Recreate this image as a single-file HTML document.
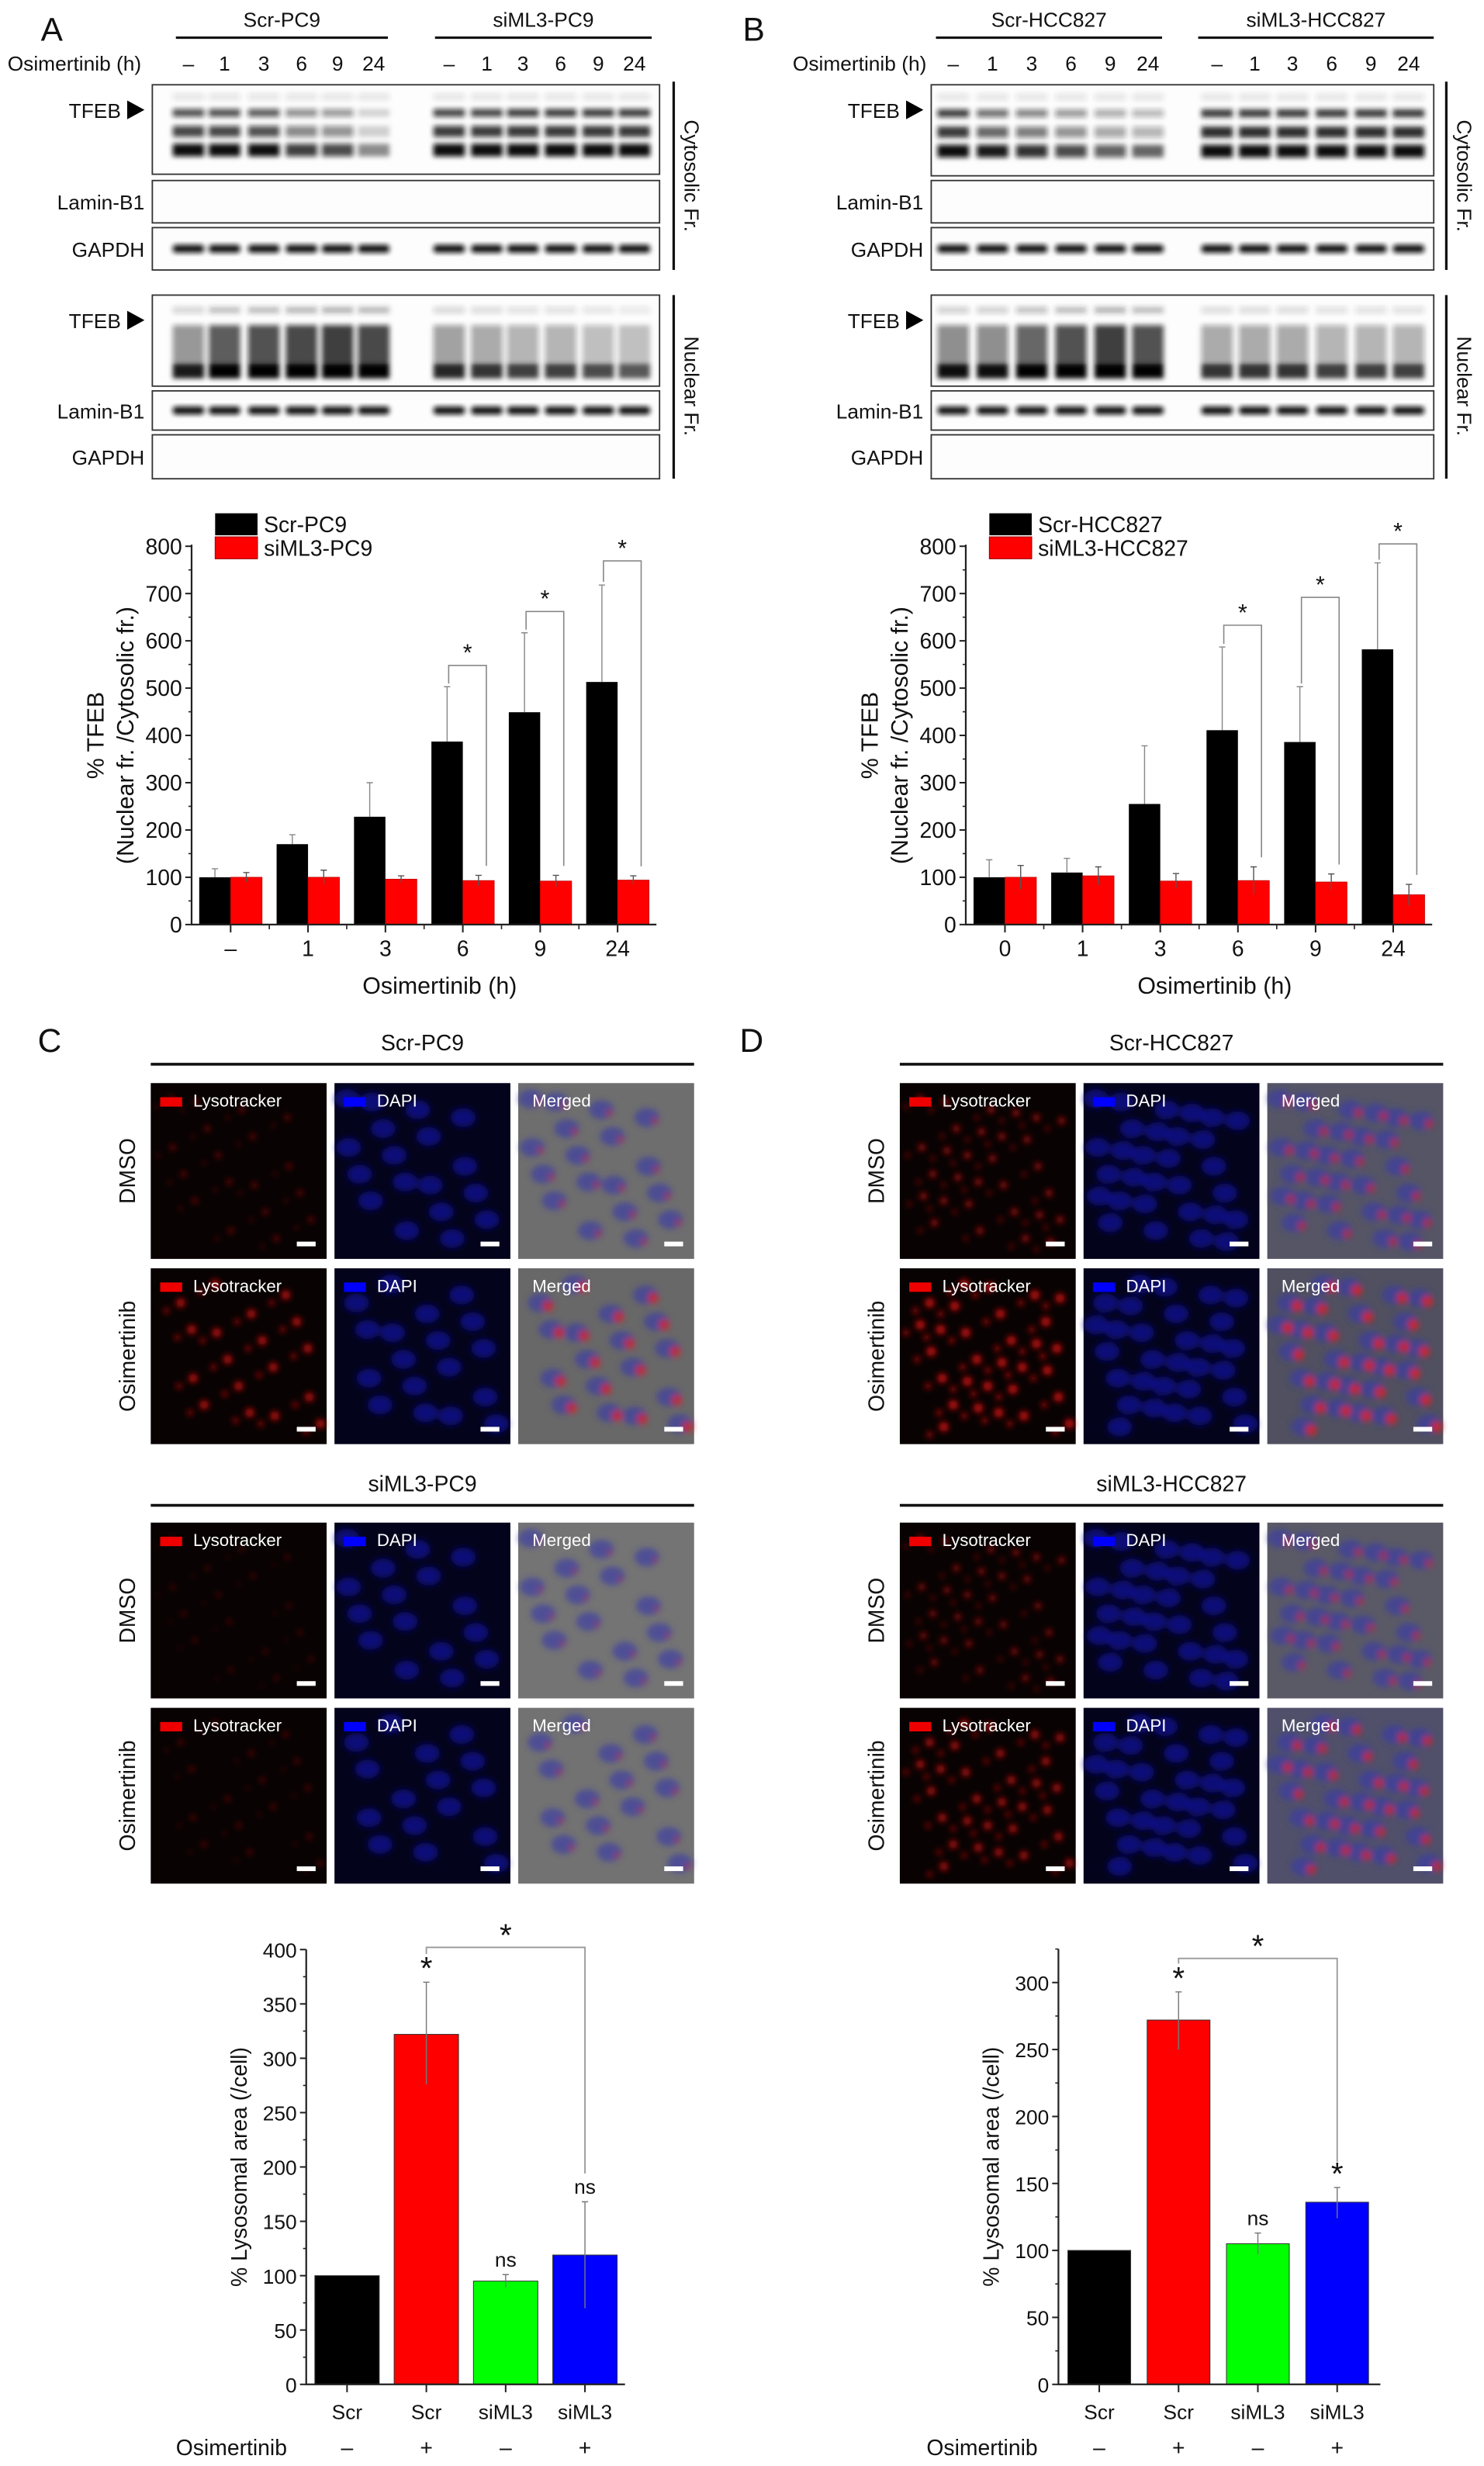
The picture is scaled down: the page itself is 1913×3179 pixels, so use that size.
<!DOCTYPE html>
<html><head><meta charset="utf-8"><style>
html,body{margin:0;padding:0;background:#fff}
svg{display:block}
text{font-family:"Liberation Sans",sans-serif}
</style></head><body>
<svg id="fig" xmlns="http://www.w3.org/2000/svg" width="1913" height="3179" viewBox="0 0 945 1571" preserveAspectRatio="none">
<defs>
<filter id="blur1" x="-20%" y="-50%" width="140%" height="200%"><feGaussianBlur stdDeviation="1.6"/></filter>
<filter id="blur2" x="-50%" y="-50%" width="200%" height="200%"><feGaussianBlur stdDeviation="2"/></filter>
</defs>
<g id="blots"></g>
<g id="micro"></g>
<g id="charts"></g>
<text x="26" y="26" font-size="21" fill="#111">A</text>
<text x="473" y="26" font-size="21" fill="#111">B</text>
<text x="24" y="670" font-size="21" fill="#111">C</text>
<text x="471" y="670" font-size="21" fill="#111">D</text>
</svg>
<script>
// ---------- Chart data ----------
const timeLabelsA = ['–','1','3','6','9','24'];
const scrPC9 = [100,170,228,387,449,513];
const scrPC9Err = [118,190,300,503,617,718];
const siPC9 = [100,100,96,93,92,94];
const siPC9Err = [110,115,103,104,104,103];
const sigA = [null,null,null,548,662,769];

const timeLabelsB = ['0','1','3','6','9','24'];
const scrHCC = [100,110,255,411,386,582];
const scrHCCErr = [137,140,378,587,503,765];
const siHCC = [100,103,92,93,90,63];
const siHCCErr = [125,122,108,122,107,85];
const sigB = [null,null,null,633,692,805];

const tfebTicks = [0,100,200,300,400,500,600,700,800];

const lysoCats = ['Scr','Scr','siML3','siML3'];
const lysoDrug = ['–','+','–','+'];
const lysoC = [100,322,95,119];
const lysoCLo = [100,276,89,70];
const lysoCHi = [100,370,101,168];
const lysoCMarks = ['','*','ns','ns'];
const lysoCTicks = [0,50,100,150,200,250,300,350,400];

const lysoD = [100,272,105,136];
const lysoDLo = [100,250,97,124];
const lysoDHi = [100,293,113,147];
const lysoDMarks = ['','*','ns','*'];
const lysoDTicks = [0,50,100,150,200,250,300];

const NS='http://www.w3.org/2000/svg';
function mk(tag,attrs,parent,txt){const e=document.createElementNS(NS,tag);for(const k in attrs)e.setAttribute(k,attrs[k]);if(tag==='text'&&!attrs.fill)e.setAttribute('fill','#111');if(txt!==undefined)e.textContent=txt;parent.appendChild(e);return e;}

const charts=document.getElementById('charts');

// ---------- Grouped TFEB chart ----------
function tfebChart(o){
  const g=mk('g',{},charts);
  
  
  const y=v=>o.y0-(v/800)*(o.y0-o.y800);
  const n=o.labels.length;
  const cx=i=>o.x0+(o.x1-o.x0)*(0.084+0.1665*i);
  const bw=20;
  for(let i=0;i<n;i++){
    const c=cx(i);
    const b=mk('rect',{x:c-bw,y:y(o.black[i]),width:bw,height:y(0)-y(o.black[i]),fill:'#000'},g);
    
    
    const r=mk('rect',{x:c,y:y(o.red[i]),width:bw,height:y(0)-y(o.red[i]),fill:'#f00',stroke:'#b00','stroke-width':0.4},g);
    
    
    const e1=mk('path',{d:`M${c-bw/2},${y(o.black[i])} V${y(o.blackErr[i])} M${c-bw/2-2},${y(o.blackErr[i])} H${c-bw/2+2}`,stroke:'#888','stroke-width':0.7,fill:'none'},g);
    
    
    const e2=mk('path',{d:`M${c+bw/2},${y(2*o.red[i]-o.redErr[i])} V${y(o.redErr[i])} M${c+bw/2-2},${y(o.redErr[i])} H${c+bw/2+2}`,stroke:'#555','stroke-width':0.7,fill:'none'},g);
    
    
    if(o.sig[i]!==null){
      const lx=c-bw/2+1, rx=c+bw/2+5;
      const br=mk('path',{d:`M${lx},${y(o.blackErr[i])-2} V${y(o.sig[i])} H${rx} V${y(o.redErr[i]+20)}`,stroke:'#888','stroke-width':0.8,fill:'none'},g);
      
      
      const st=mk('text',{x:(lx+rx)/2,y:y(o.sig[i])-3,'font-size':15,'text-anchor':'middle'},g,'*');
      
      
    }
    const tk=mk('line',{x1:c,x2:c,y1:o.y0,y2:o.y0+5,stroke:'#222','stroke-width':1},g);
    
    
    const tl=mk('text',{x:c,y:o.y0+20,'font-size':14,'text-anchor':'middle'},g,o.labels[i]);
    
    
  }
  const ax=mk('path',{d:`M${o.x0},${o.y800-1} V${o.y0} H${o.x1}`,stroke:'#222','stroke-width':1.1,fill:'none'},g);
  
  
  for(let i=0;i<n-1;i++){const mx=(cx(i)+cx(i+1))/2;mk('line',{x1:mx,x2:mx,y1:o.y0,y2:o.y0+3,stroke:'#222','stroke-width':0.8},g);}
  tfebTicks.forEach(v=>{
    const t=mk('line',{x1:o.x0-4,x2:o.x0,y1:y(v),y2:y(v),stroke:'#222','stroke-width':1},g);
    
    
    if(v<800) mk('line',{x1:o.x0-2,x2:o.x0,y1:y(v+50),y2:y(v+50),stroke:'#222','stroke-width':0.8},g);
    const l=mk('text',{x:o.x0-6,y:y(v)+5,'font-size':14,'text-anchor':'end'},g,String(v));
    
    
  });
  const yc=(o.y0+o.y800)/2;
  const t1=mk('text',{x:0,y:0,'font-size':15,'text-anchor':'middle',transform:`translate(${o.x0-56},${yc}) rotate(-90)`},g,'% TFEB');
  
  
  const t2=mk('text',{x:0,y:0,'font-size':15,'text-anchor':'middle',transform:`translate(${o.x0-37},${yc}) rotate(-90)`},g,'(Nuclear fr. /Cytosolic fr.)');
  
  
  const xt=mk('text',{x:(o.x0+o.x1)/2+10,y:o.y0+44,'font-size':15,'text-anchor':'middle'},g,'Osimertinib (h)');
  
  
  const lg=mk('g',{},g);
  
  
  mk('rect',{x:o.x0+15,y:o.y800-21,width:27,height:14,fill:'#000'},lg);
  mk('rect',{x:o.x0+15,y:o.y800-6,width:27,height:14,fill:'#f00',stroke:'#900','stroke-width':0.5},lg);
  const le1=mk('text',{x:o.x0+46,y:o.y800-9,'font-size':14},lg,o.leg[0]);
  
  
  const le2=mk('text',{x:o.x0+46,y:o.y800+6,'font-size':14},lg,o.leg[1]);
  
  
}
tfebChart({name:'chart-tfeb-pc9',x0:122,x1:418,y0:589,y800:348,labels:timeLabelsA,black:scrPC9,blackErr:scrPC9Err,red:siPC9,redErr:siPC9Err,sig:sigA,leg:['Scr-PC9','siML3-PC9']});
tfebChart({name:'chart-tfeb-hcc827',x0:615,x1:912,y0:589,y800:348,labels:timeLabelsB,black:scrHCC,blackErr:scrHCCErr,red:siHCC,redErr:siHCCErr,sig:sigB,leg:['Scr-HCC827','siML3-HCC827']});

// ---------- Lysosomal chart ----------
function lysoChart(o){
  const g=mk('g',{},charts);
  
  
  const y=v=>o.y0-(v/o.ref)*(o.y0-o.yref);
  const colors=['#000','#f00','#0f0','#00f'];
  const bw=o.bw;
  const cx=i=>o.cx0+o.step*i;
  for(let i=0;i<4;i++){
    const c=cx(i);
    const b=mk('rect',{x:c-bw/2,y:y(o.vals[i]),width:bw,height:y(0)-y(o.vals[i]),fill:colors[i],stroke:'#333','stroke-width':0.5},g);
    
    
    if(o.hi[i]!==o.lo[i]){
      const e=mk('path',{d:`M${c},${y(o.lo[i])} V${y(o.hi[i])} M${c-2},${y(o.hi[i])} H${c+2}`,stroke:'#777','stroke-width':0.7,fill:'none'},g);
      
      
    }
    if(o.marks[i]){
      const m=mk('text',{x:c,y:y(o.hi[i])-(o.marks[i]==='*'?2:5),'font-size':o.marks[i]==='*'?20:13,'text-anchor':'middle'},g,o.marks[i]);
      
      
    }
    mk('line',{x1:c,x2:c,y1:o.y0,y2:o.y0+5,stroke:'#222','stroke-width':1},g);
    const l=mk('text',{x:c,y:o.y0+22,'font-size':13,'text-anchor':'middle'},g,lysoCats[i]);
    
    
    const d=mk('text',{x:c,y:o.y0+45,'font-size':14,'text-anchor':'middle'},g,lysoDrug[i]);
    
    
  }
  const ax=mk('path',{d:`M${o.x0},${y(o.top)} V${o.y0} H${o.x1}`,stroke:'#222','stroke-width':1.1,fill:'none'},g);
  
  
  o.ticks.forEach(v=>{
    mk('line',{x1:o.x0-4,x2:o.x0,y1:y(v),y2:y(v),stroke:'#222','stroke-width':1},g);
    if(v+25<=o.top) mk('line',{x1:o.x0-2,x2:o.x0,y1:y(v+25),y2:y(v+25),stroke:'#222','stroke-width':0.8},g);
    const l=mk('text',{x:o.x0-6,y:y(v)+5,'font-size':13,'text-anchor':'end'},g,String(v));
    
    
  });
  const br=mk('path',{d:`M${cx(1)},${y(o.hi[1])-18} V${y(o.br)} H${cx(3)} V${y(o.brEnd)}`,stroke:'#999','stroke-width':0.9,fill:'none'},g);
  
  
  const st=mk('text',{x:(cx(1)+cx(3))/2,y:y(o.br)-1,'font-size':20,'text-anchor':'middle'},g,'*');
  
  
  const yt=mk('text',{x:0,y:0,'font-size':14,'text-anchor':'middle',transform:`translate(${o.x0-38},${(o.y0+y(o.top))/2}) rotate(-90)`},g,'% Lysosomal area (/cell)');
  
  
  const ot=mk('text',{x:o.osX,y:o.y0+45,'font-size':14,'text-anchor':'start'},g,'Osimertinib');
  
  
}
lysoChart({name:'chart-lysosome-pc9',x0:195,x1:398,y0:1519,yref:1242,ref:400,top:400,cx0:221,step:50.5,bw:41,vals:lysoC,lo:lysoCLo,hi:lysoCHi,marks:lysoCMarks,ticks:lysoCTicks,br:402,brEnd:194,osX:112});
lysoChart({name:'chart-lysosome-hcc827',x0:674,x1:879,y0:1519,yref:1263,ref:300,top:325,cx0:700,step:50.5,bw:40,vals:lysoD,lo:lysoDLo,hi:lysoDHi,marks:lysoDMarks,ticks:lysoDTicks,br:318,brEnd:166,osX:590});

// ---------- Western blots ----------
const blots=document.getElementById('blots');
function blotPanel(o){
  const g=mk('g',{},blots);
  
  
  o.groups.forEach((gr,k)=>{
    const h=mk('text',{x:(gr.x0+gr.x1)/2,y:17,'font-size':13,'text-anchor':'middle'},g,gr.label);
    
    
    mk('line',{x1:gr.x0,x2:gr.x1,y1:24,y2:24,stroke:'#111','stroke-width':1.6},g);
    gr.lanes.forEach((lx,j)=>{
      const t=mk('text',{x:lx,y:45,'font-size':13,'text-anchor':'middle'},g,timeLabelsA[j]);
      
      
    });
  });
  const ol=mk('text',{x:o.oX,y:45,'font-size':13,'text-anchor':'end'},g,'Osimertinib (h)');
  
  
  const rows=[
    {lab:'TFEB',y0:o.c[0],y1:o.c[1],kind:'tfebC',arrow:true},
    {lab:'Lamin-B1',y0:115,y1:142,kind:'none'},
    {lab:'GAPDH',y0:145,y1:172,kind:'single'},
    {lab:'TFEB',y0:o.n[0],y1:o.n[1],kind:'tfebN',arrow:true},
    {lab:'Lamin-B1',y0:249,y1:274,kind:'single'},
    {lab:'GAPDH',y0:277,y1:305,kind:'none'}];
  rows.forEach(r=>{
    const box=mk('rect',{x:o.bx0,y:r.y0,width:o.bx1-o.bx0,height:r.y1-r.y0,fill:'#fdfdfd',stroke:'#333','stroke-width':0.9},g);
    
    
    const ly=r.arrow?r.y0+21:(r.y0+r.y1)/2+5;
    const lt=mk('text',{x:o.bx0-(r.arrow?20:5),y:ly,'font-size':13,'text-anchor':'end'},g,r.lab);
    
    
    if(r.arrow){const ay=ly-5;mk('path',{d:`M${o.bx0-16},${ay-6} L${o.bx0-5},${ay} L${o.bx0-16},${ay+6}Z`,fill:'#000'},g);}
    const bands=mk('g',{filter:'url(#blur1)'},g);
    o.groups.forEach((gr,k)=>gr.lanes.forEach((lx,j)=>{
      const w=20;
      if(r.kind==='single'){
        mk('rect',{x:lx-w/2,y:(r.y0+r.y1)/2-2.5,width:w,height:5,rx:2,fill:'#111'},bands);
      } else if(r.kind==='tfebC'){
        const fade=o.fadeC[k][j];
        const h=r.y1-r.y0;
        mk('rect',{x:lx-w/2,y:r.y0+h*0.27,width:w,height:5,fill:`rgba(20,20,20,${fade*0.85})`},bands);
        mk('rect',{x:lx-w/2,y:r.y0+h*0.46,width:w,height:7,fill:`rgba(20,20,20,${fade*0.9})`},bands);
        mk('rect',{x:lx-w/2,y:r.y0+h*0.66,width:w,height:8,fill:`rgba(10,10,10,${Math.min(1,fade+0.25)})`},bands);
        mk('rect',{x:lx-w/2,y:r.y0+h*0.1,width:w,height:4,fill:`rgba(60,60,60,0.12)`},bands);
      } else if(r.kind==='tfebN'){
        const f=o.fadeN[k][j];
        const h=r.y1-r.y0;
        mk('rect',{x:lx-w/2,y:r.y0+h*0.13,width:w,height:4,fill:`rgba(40,40,40,${f*0.35})`},bands);
        mk('rect',{x:lx-w/2,y:r.y0+h*0.33,width:w,height:h*0.45,fill:`rgba(20,20,20,${f*0.8})`},bands);
        mk('rect',{x:lx-w/2,y:r.y0+h*0.76,width:w,height:9,fill:`rgba(5,5,5,${Math.min(1,f+0.35)})`},bands);
      }
    }));
  });
  mk('line',{x1:o.sx,x2:o.sx,y1:o.c[0]-2,y2:172,stroke:'#111','stroke-width':1.6},g);
  mk('line',{x1:o.sx,x2:o.sx,y1:o.n[0],y2:305,stroke:'#111','stroke-width':1.6},g);
  const c1=mk('text',{x:0,y:0,'font-size':13,'text-anchor':'middle',transform:`translate(${o.sx+7},112) rotate(90)`},g,'Cytosolic Fr.');
  
  
  const c2=mk('text',{x:0,y:0,'font-size':13,'text-anchor':'middle',transform:`translate(${o.sx+7},246) rotate(90)`},g,'Nuclear Fr.');
  
  
}
blotPanel({name:'blot-panel-pc9',bx0:97,bx1:420,sx:429,oX:90,c:[54,111],n:[188,246],
  groups:[{label:'Scr-PC9',x0:112,x1:247,lanes:[120,143,168,192,215,238]},{label:'siML3-PC9',x0:277,x1:415,lanes:[286,310,333,357,381,404]}],
  fadeC:[[0.85,0.85,0.8,0.55,0.5,0.2],[0.9,0.9,0.95,0.95,0.95,0.95]],
  fadeN:[[0.55,0.85,0.9,0.95,1,0.95],[0.5,0.45,0.4,0.4,0.35,0.3]]});
blotPanel({name:'blot-panel-hcc827',bx0:593,bx1:913,sx:921,oX:590,c:[54,112],n:[188,246],
  groups:[{label:'Scr-HCC827',x0:596,x1:740,lanes:[607,632,657,682,707,731]},{label:'siML3-HCC827',x0:763,x1:913,lanes:[775,799,823,848,873,897]}],
  fadeC:[[0.95,0.7,0.6,0.5,0.4,0.35],[1,1,1,1,1,1]],
  fadeN:[[0.6,0.6,0.8,0.9,1,0.9],[0.45,0.45,0.45,0.4,0.4,0.4]]});

// ---------- Micrographs ----------
const micro=document.getElementById('micro');
function microGroup(o){
  const g=mk('g',{},micro);
  
  
  const t=mk('text',{x:(o.cols[0]+o.cols[2]+112)/2,y:o.titleY,'font-size':14,'text-anchor':'middle'},g,o.title);
  
  
  mk('line',{x1:o.cols[0],x2:o.cols[2]+112,y1:o.titleY+9,y2:o.titleY+9,stroke:'#111','stroke-width':1.8},g);
  ['DMSO','Osimertinib'].forEach((rl,ri)=>{
    const y0=o.rows[ri];
    const lab=mk('text',{x:0,y:0,'font-size':14,'text-anchor':'middle',transform:`translate(${o.cols[0]-10},${y0+56}) rotate(-90)`},g,rl);
    
    
    ['Lysotracker','DAPI','Merged'].forEach((cl,ci)=>{
      const x0=o.cols[ci];
      const p=mk('g',{},g);
      
      
      const bg=ci===0?'#080202':ci===1?'#03031c':(o.merged[ri]);
      mk('rect',{x:x0,y:y0,width:112,height:112,fill:bg},p);
      const blobs=mk('g',{filter:'url(#blur2)'},p);
      const dens=o.dens[ri];
      for(let k=0;k<o.n;k++){
        const px=x0+8+((k*37+ri*13)%96), py=y0+10+((k*53+ri*29)%94);
        if(ci===1) mk('ellipse',{cx:px,cy:py,rx:8,ry:6,fill:'#1010a0',opacity:0.7},blobs);
        if(ci===0){mk('circle',{cx:px+5,cy:py,r:1.5+dens*1.5,fill:'#e01010',opacity:0.3+dens*0.6},blobs);
          mk('circle',{cx:px-4,cy:py+5,r:1+dens,fill:'#e01010',opacity:0.25+dens*0.5},blobs);}
        if(ci===2){mk('ellipse',{cx:px,cy:py,rx:8,ry:6,fill:'#3a3aa8',opacity:0.65},blobs);
          mk('circle',{cx:px+5,cy:py+2,r:1.5+dens*2,fill:'#e02020',opacity:0.35+dens*0.5},blobs);}
      }
      mk('rect',{x:x0+6,y:y0+9,width:14,height:6,fill:ci===0?'#e00':ci===1?'#00f':'none'},p);
      const lt=mk('text',{x:x0+(ci===2?9:27),y:y0+15,'font-size':11,fill:'#ffffff'},p,cl);
      
      
      mk('rect',{x:x0+93,y:y0+101,width:12,height:3,fill:'#fff'},p);
    });
  });
}
const cC=[96,213,330], cD=[573,690,807];
microGroup({name:'micro-scr-pc9',title:'Scr-PC9',titleY:669,cols:cC,rows:[690,808],merged:['#6e6e6e','#686868'],dens:[0.3,0.9],n:18});
microGroup({name:'micro-siml3-pc9',title:'siML3-PC9',titleY:950,cols:cC,rows:[970,1088],merged:['#747474','#727272'],dens:[0.1,0.2],n:16});
microGroup({name:'micro-scr-hcc827',title:'Scr-HCC827',titleY:669,cols:cD,rows:[690,808],merged:['#555566','#505060'],dens:[0.6,1],n:30});
microGroup({name:'micro-siml3-hcc827',title:'siML3-HCC827',titleY:950,cols:cD,rows:[970,1088],merged:['#5a5a66','#50506a'],dens:[0.5,0.8],n:30});
</script>
</body></html>
